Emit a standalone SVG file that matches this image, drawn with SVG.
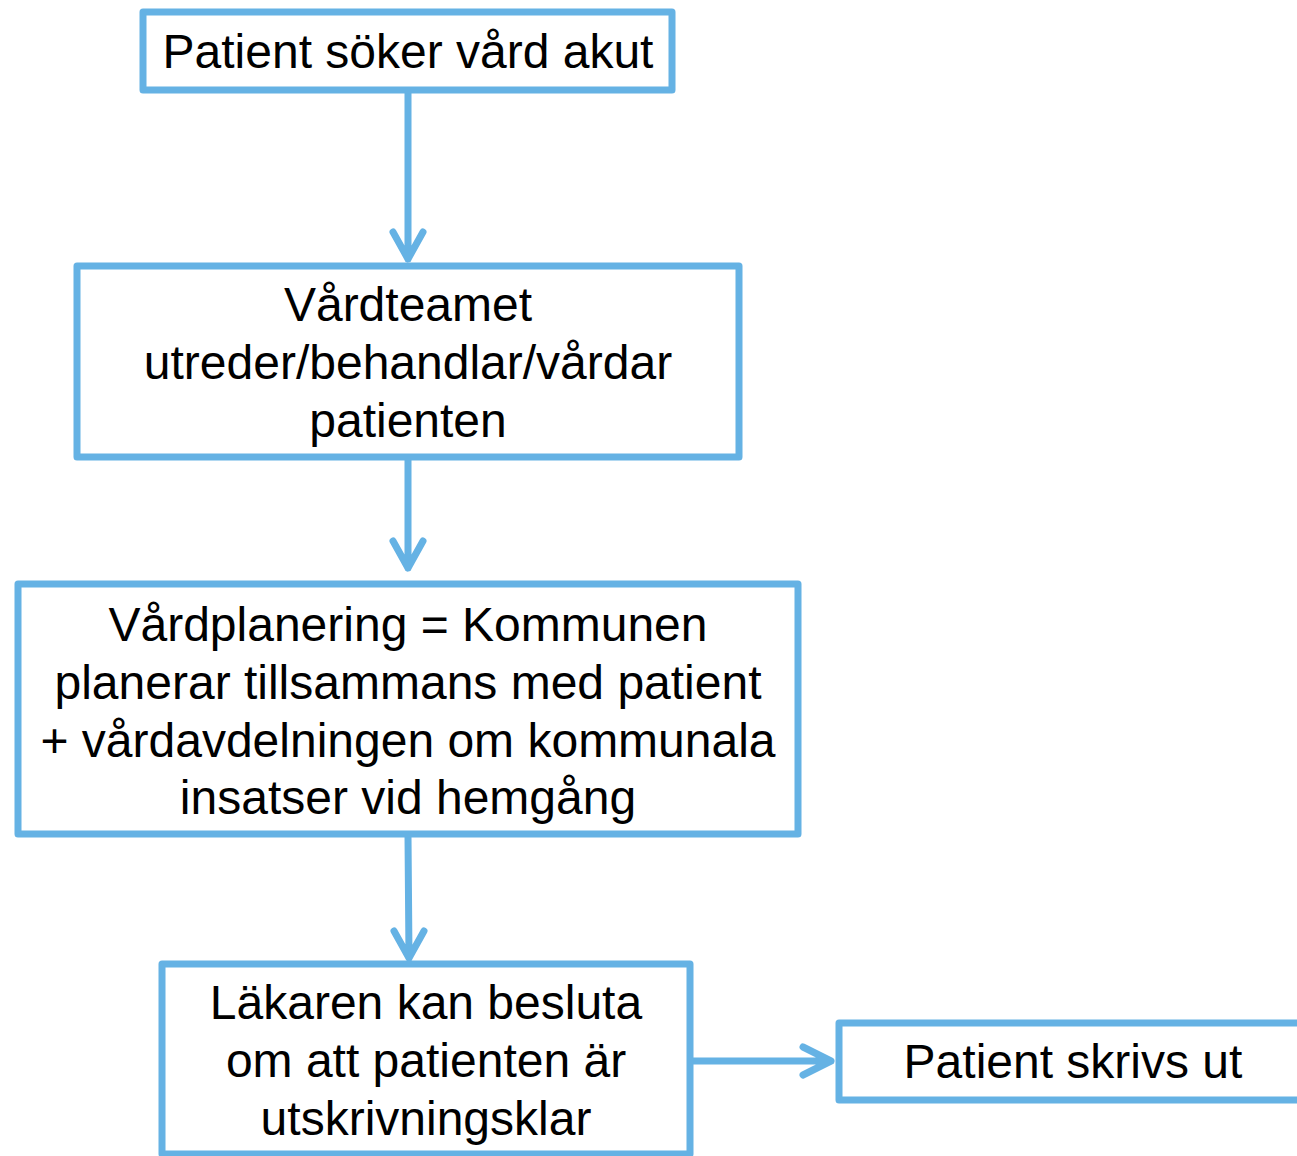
<svg xmlns="http://www.w3.org/2000/svg" width="1297" height="1156" viewBox="0 0 1297 1156">
<style>
.box{fill:#fff;stroke:#65b2e4;stroke-width:7;stroke-linejoin:round}
.con{fill:none;stroke:#65b2e4;stroke-width:7;stroke-linecap:round;stroke-linejoin:round}
text{font-family:"Liberation Sans",Arial,sans-serif;font-size:48px;fill:#000;text-anchor:middle}
</style>
<rect width="1297" height="1156" fill="#fff"/>
<g id="connectors">
<path class="con" d="M408 91V259M393 232L408 259L423 232"/>
<path class="con" d="M408 459V568M393 541L408 568L423 541"/>
<path class="con" d="M408 836L409 958M394 931L409 958L424 931"/>
<path class="con" d="M692 1061H831M803 1047L831 1061L803 1075"/>
</g>
<g id="n1">
<rect class="box" x="143" y="12" width="529" height="78"/>
<text x="408" y="68">Patient söker vård akut</text>
</g>
<g id="n2">
<rect class="box" x="77" y="266" width="662" height="191"/>
<text x="408" y="321">Vårdteamet</text>
<text x="408" y="379">utreder/behandlar/vårdar</text>
<text x="408" y="437">patienten</text>
</g>
<g id="n3">
<rect class="box" x="18" y="584" width="780" height="250"/>
<text x="408" y="641">Vårdplanering = Kommunen</text>
<text x="408" y="699">planerar tillsammans med patient</text>
<text x="408" y="757">+ vårdavdelningen om kommunala</text>
<text x="408" y="814">insatser vid hemgång</text>
</g>
<g id="n4">
<rect class="box" x="162" y="964" width="528" height="190"/>
<text x="426" y="1019">Läkaren kan besluta</text>
<text x="426" y="1077">om att patienten är</text>
<text x="426" y="1135">utskrivningsklar</text>
</g>
<g id="n5">
<rect class="box" x="839" y="1023" width="470" height="77"/>
<text x="1073" y="1078">Patient skrivs ut</text>
</g>
</svg>
